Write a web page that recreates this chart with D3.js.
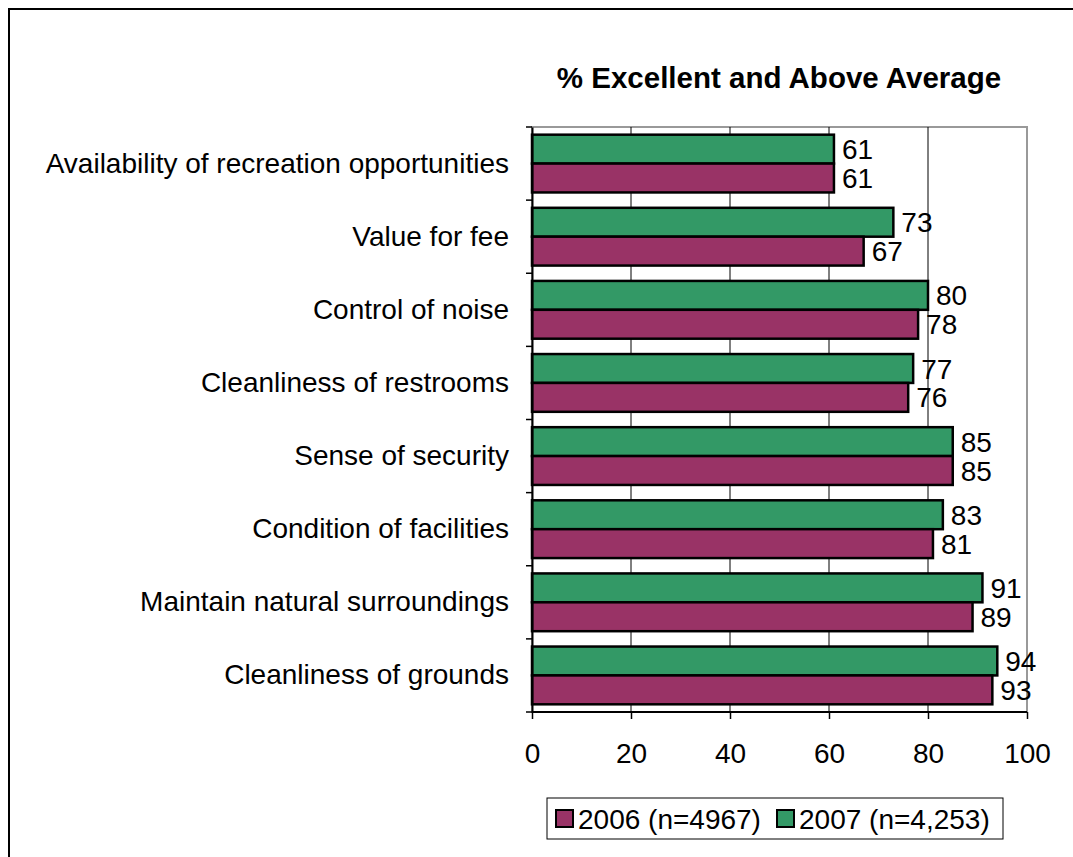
<!DOCTYPE html>
<html>
<head>
<meta charset="utf-8">
<script src="https://cdn.jsdelivr.net/npm/d3@7"></script>
<style>
  body { margin: 0; background: #fff; }
  svg { display: block; font-family: "Liberation Sans", Arial, sans-serif; }
</style>
</head>
<body>
<svg width="1073" height="857"></svg>
<script>
(function() {
  var categories = [
    "Availability of recreation opportunities",
    "Value for fee",
    "Control of noise",
    "Cleanliness of restrooms",
    "Sense of security",
    "Condition of facilities",
    "Maintain natural surroundings",
    "Cleanliness of grounds"
  ];
  var values2006 = [61, 67, 78, 76, 85, 81, 89, 93];
  var values2007 = [61, 73, 80, 77, 85, 83, 91, 94];
  var seriesNames = ["2007", "2006"];
  var legendLabels = ["2006 (n=4967)", "2007 (n=4,253)"];
  var tickValues = [0, 20, 40, 60, 80, 100];
  var title = "% Excellent and Above Average";

  var colors = { "2006": "#993366", "2007": "#339966" };
  var fs = 28;

  var svg = d3.select("svg");

  // outer chart border (runs off the right/bottom edge)
  svg.append("rect")
      .attr("x", 9).attr("y", 9)
      .attr("width", 1100).attr("height", 900)
      .attr("fill", "none")
      .attr("stroke", "#000")
      .attr("stroke-width", 2);

  var x = d3.scaleLinear().domain([0, 100]).range([532, 1027]);
  var y = d3.scaleBand().domain(categories).range([127, 712]).paddingInner(0.21).paddingOuter(0.105);
  var ySub = d3.scaleBand().domain(seriesNames).range([0, y.bandwidth()]);

  var rows = categories.map(function(c, i) {
    return { cat: c, vals: [ { s: "2007", v: values2007[i] }, { s: "2006", v: values2006[i] } ] };
  });

  // plot border (gray top/right)
  svg.append("rect")
      .attr("x", x(0)).attr("y", 127)
      .attr("width", x(100) - x(0)).attr("height", 712 - 127)
      .attr("fill", "none")
      .attr("stroke", "#999")
      .attr("stroke-width", 2);

  // gridlines
  svg.append("g").selectAll("line")
    .data(tickValues.slice(1, -1))
    .enter().append("line")
      .attr("x1", function(d) { return x(d); })
      .attr("x2", function(d) { return x(d); })
      .attr("y1", 127).attr("y2", 712)
      .attr("stroke", "#000")
      .attr("stroke-width", 1);

  // bars
  var g = svg.append("g").selectAll("g")
    .data(rows)
    .enter().append("g")
      .attr("transform", function(d) { return "translate(0," + y(d.cat) + ")"; });

  g.selectAll("rect")
    .data(function(d) { return d.vals; })
    .enter().append("rect")
      .attr("x", x(0))
      .attr("y", function(d) { return ySub(d.s); })
      .attr("width", function(d) { return x(d.v) - x(0); })
      .attr("height", ySub.bandwidth())
      .attr("fill", function(d) { return colors[d.s]; })
      .attr("stroke", "#000")
      .attr("stroke-width", 2.5);

  g.selectAll("text")
    .data(function(d) { return d.vals; })
    .enter().append("text")
      .attr("x", function(d) { return x(d.v) + 8; })
      .attr("y", function(d) { return ySub(d.s) + ySub.bandwidth() / 2; })
      .attr("dy", "0.36em")
      .attr("font-size", fs)
      .attr("fill", "#000")
      .text(function(d) { return d.v; });

  // left axis
  var yAxis = svg.append("g")
      .attr("transform", "translate(" + x(0) + ",0)")
      .call(d3.axisLeft(y).tickSize(0).tickPadding(23));
  yAxis.select(".domain").attr("stroke", "#000").attr("stroke-width", 2);
  yAxis.selectAll("text").attr("font-size", fs).attr("fill", "#000").attr("font-family", null);
  // category boundary ticks
  svg.append("g").selectAll("line")
    .data(d3.range(categories.length + 1))
    .enter().append("line")
      .attr("x1", x(0) - 6).attr("x2", x(0))
      .attr("y1", function(i) { return 127 + i * y.step(); })
      .attr("y2", function(i) { return 127 + i * y.step(); })
      .attr("stroke", "#000")
      .attr("stroke-width", 1.5);

  // bottom axis
  var xAxis = svg.append("g")
      .attr("transform", "translate(0,712)")
      .call(d3.axisBottom(x).tickValues(tickValues).tickSize(7).tickPadding(24));
  xAxis.select(".domain").remove();
  xAxis.append("line").attr("x1", x(0)).attr("x2", x(100)).attr("stroke", "#000").attr("stroke-width", 2);
  xAxis.selectAll(".tick line").attr("stroke", "#000").attr("stroke-width", 1.5);
  xAxis.selectAll("text").attr("font-size", fs).attr("fill", "#000").attr("font-family", null);

  svg.append("text")
      .attr("x", 779).attr("y", 88)
      .attr("text-anchor", "middle")
      .attr("font-size", 29.5)
      .attr("font-weight", "bold")
      .text(title);

  // legend
  var lg = svg.append("g");
  lg.append("rect")
      .attr("x", 547).attr("y", 798)
      .attr("width", 456).attr("height", 41)
      .attr("fill", "#fff")
      .attr("stroke", "#000")
      .attr("stroke-width", 1);
  var legendX = [556, 777];
  var legendSeries = ["2006", "2007"];
  legendSeries.forEach(function(s, i) {
    lg.append("rect")
        .attr("x", legendX[i]).attr("y", 810)
        .attr("width", 17).attr("height", 17)
        .attr("fill", colors[s])
        .attr("stroke", "#000")
        .attr("stroke-width", 2);
    lg.append("text")
        .attr("x", legendX[i] + 22).attr("y", 819)
        .attr("dy", "0.36em")
        .attr("font-size", fs)
        .text(legendLabels[i]);
  });
})();
</script>
</body>
</html>
